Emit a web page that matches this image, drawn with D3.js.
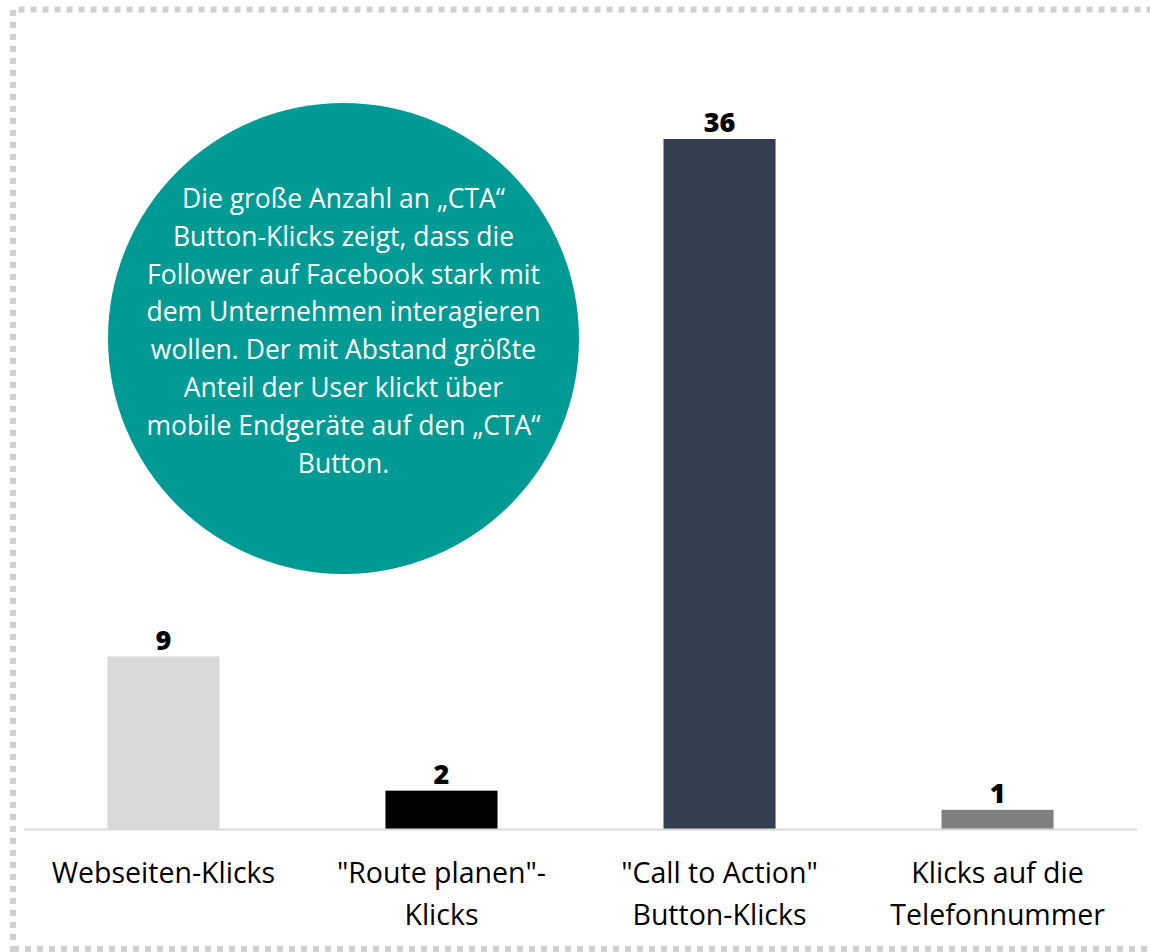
<!DOCTYPE html>
<html>
<head>
<meta charset="utf-8">
<script src="https://cdn.jsdelivr.net/npm/d3@7"></script>
<style>
  html, body { margin: 0; padding: 0; background: #ffffff; }
  svg { display: block; }
</style>
</head>
<body>
<svg id="chart" width="1150" height="952"></svg>
<script>
// Klick-Kennzahlen der Facebook-Seite
const categories = [
  ["Webseiten-Klicks"],
  ["\"Route planen\"-", "Klicks"],
  ["\"Call to Action\"", "Button-Klicks"],
  ["Klicks auf die", "Telefonnummer"]
];
const values = [9, 2, 36, 1];
const barColors = ["#d9d9d9", "#000000", "#333f50", "#7f7f7f"];
const noteLines = [
  "Die große Anzahl an „CTA“",
  "Button-Klicks zeigt, dass die",
  "Follower auf Facebook stark mit",
  "dem Unternehmen interagieren",
  "wollen. Der mit Abstand größte",
  "Anteil der User klickt über",
  "mobile Endgeräte auf den „CTA“",
  "Button."
];

const svg = d3.select("#chart");
const font = "'Open Sans', sans-serif";

// gepunkteter Rahmen
svg.append("path")
  .attr("d", "M13,1000 L13,9.5 L1160,9.5 M13,949 L1160,949")
  .attr("fill", "none")
  .attr("stroke", "#d0d0d0")
  .attr("stroke-width", 6)
  .attr("stroke-dasharray", "6,6");

const keys = categories.map((c, i) => i);
const x = d3.scaleBand().domain(keys).range([24, 1137]).paddingInner(0.597).paddingOuter(0.3);
const y = d3.scaleLinear().domain([0, 36]).range([829, 139]);

// Balken
svg.append("g").selectAll("rect")
  .data(values)
  .join("rect")
  .attr("x", (d, i) => x(i))
  .attr("y", d => y(d))
  .attr("width", x.bandwidth())
  .attr("height", d => y(0) - y(d))
  .attr("fill", (d, i) => barColors[i]);

// Grundlinie
svg.append("line")
  .attr("x1", 24).attr("x2", 1137)
  .attr("y1", y(0) + 0.5).attr("y2", y(0) + 0.5)
  .attr("stroke", "#d9d9d9").attr("stroke-width", 2);

// Werte
svg.append("g").selectAll("text")
  .data(values)
  .join("text")
  .attr("x", (d, i) => x(i) + x.bandwidth() / 2)
  .attr("y", d => y(d) - 7)
  .attr("text-anchor", "middle")
  .attr("font-family", font)
  .attr("font-weight", 800)
  .attr("font-size", 27)
  .attr("fill", "#000")
  .text(d => d);

// Kategorien
const cat = svg.append("g").selectAll("text")
  .data(categories)
  .join("text")
  .attr("text-anchor", "middle")
  .attr("font-family", font)
  .attr("font-size", 28.5)
  .attr("fill", "#000");
cat.selectAll("tspan")
  .data((d, i) => d.map(t => ({ t, i })))
  .join("tspan")
  .attr("x", d => x(d.i) + x.bandwidth() / 2)
  .attr("y", (d, j) => 883 + j * 42)
  .text(d => d.t);

// Kommentar-Kreis
const cx = 343.5, cy = 338.5, r = 235.5;
svg.append("circle")
  .attr("cx", cx).attr("cy", cy).attr("r", r)
  .attr("fill", "#009a95");

svg.append("text")
  .attr("text-anchor", "middle")
  .attr("font-family", font)
  .attr("font-size", 26.5)
  .attr("fill", "#ffffff")
  .selectAll("tspan")
  .data(noteLines)
  .join("tspan")
  .attr("x", cx)
  .attr("y", (d, i) => 208 + i * 37.8)
  .text(d => d);
</script>
</body>
</html>
